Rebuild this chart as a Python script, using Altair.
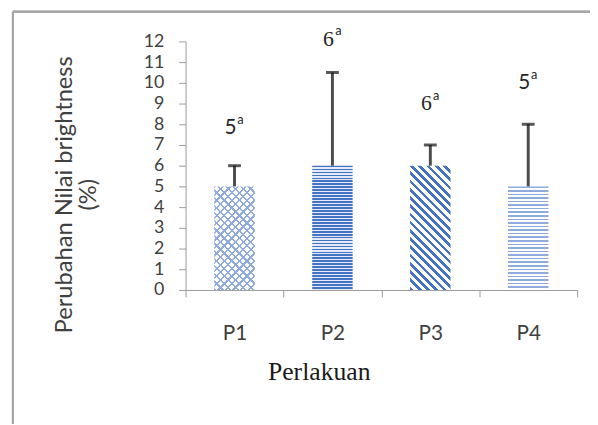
import altair as alt
import pandas as pd
import math

# ---- data ----
categories = ["P1", "P2", "P3", "P4"]
values = [5, 6, 6, 5]
upper = [6, 10.5, 7, 8]
label_num = ["5", "6", "6", "5"]
label_sup = ["a", "a", "a", "a"]
label_y = [7.8, 12.1, 9.0, 10.0]
y_ticks = list(range(0, 13))

df = pd.DataFrame({
    "cat": categories, "value": values, "upper": upper,
    "num": label_num, "sup": label_sup, "label_y": label_y,
})

W, H = 397, 252
YMAX = 12
BAR_W = 41


def stops_for(c1, c2, n, frac):
    s = []
    for i in range(n):
        a = i / n
        b = (i + frac) / n
        c = (i + 1) / n
        s += [alt.GradientStop(offset=a, color=c1), alt.GradientStop(offset=b, color=c1),
              alt.GradientStop(offset=b, color=c2), alt.GradientStop(offset=c, color=c2)]
    return s


def horiz(c1, c2, h, period, frac):
    n = max(1, round(h / period))
    return alt.LinearGradient(gradient="linear", stops=stops_for(c1, c2, n, frac),
                              x1=0, y1=0, x2=0, y2=1)


def diag(c1, c2, h, period, frac, kind):
    r = BAR_W / h
    k = (r + 1) / (r * r + 1)
    n = max(1, round((BAR_W + h) / math.sqrt(2) / period))
    if kind == "back":  # "\" lines
        return alt.LinearGradient(gradient="linear", stops=stops_for(c1, c2, n, frac),
                                  x1=0, y1=1, x2=k * r, y2=1 - k)
    return alt.LinearGradient(gradient="linear", stops=stops_for(c1, c2, n, frac),
                              x1=0, y1=0, x2=k * r, y2=k)


def bar_h(v):
    return v / YMAX * H


BLUE = "#4472C4"
LIGHT = "#8FAADC"
CLEAR = "rgba(255,255,255,0)"

x_enc = alt.X("cat:N", sort=categories,
              scale=alt.Scale(paddingInner=0, paddingOuter=0),
              axis=alt.Axis(title="Perlakuan", labelAngle=0, tickBand="extent",
                            domainColor="#9a9a9a", tickColor="#9a9a9a", tickSize=7,
                            labelFont="Lato", labelFontSize=21, labelColor="#404040",
                            labelPadding=26, titleFont="Liberation Serif", titleFontSize=26,
                            titleFontWeight="normal", titleColor="#1a1a1a",
                            titleX=135, titleY=83, titleBaseline="middle", titleAnchor="middle"))

y_axis = alt.Axis(title=["Perubahan Nilai brightness", "(%)"], values=y_ticks, grid=False,
                  domainColor="#9a9a9a", tickColor="#9a9a9a", tickSize=7,
                  labelFont="Lato", labelFontSize=18, labelColor="#404040", labelPadding=15,
                  titleFont="Lato", titleFontSize=24, titleFontWeight="normal",
                  titleColor="#404040", titleLineHeight=25, titleX=-123, titleY=155,
                  titleBaseline="middle", titleAngle=270)
y_scale = alt.Scale(domain=[0, YMAX], nice=False)

base = alt.Chart(df)


def bar_layer(cat, fill):
    return base.transform_filter(alt.datum.cat == cat).mark_bar(width=BAR_W, fill=fill).encode(
        x=x_enc, y=alt.Y("value:Q", scale=y_scale, axis=y_axis))


h1, h2, h3, h4 = [bar_h(v) for v in values]
bars = [
    bar_layer("P1", diag(LIGHT, "white", h1, 5.5, 0.3, "fwd")),
    bar_layer("P1", diag(LIGHT, CLEAR, h1, 5.5, 0.3, "back")),
    bar_layer("P2", horiz(BLUE, "#e4ebf7", h2, 3.0, 0.6)),
    bar_layer("P3", diag(BLUE, "white", h3, 6.0, 0.45, "back")),
    bar_layer("P4", horiz(LIGHT, "white", h4, 3.6, 0.45)),
]

err = base.mark_rule(color="#4d4d4d", strokeWidth=3).encode(
    x=x_enc, y=alt.Y("value:Q", scale=y_scale, axis=y_axis), y2="upper:Q")
cap = base.mark_tick(color="#111111", size=13, thickness=3).encode(
    x=x_enc, y=alt.Y("upper:Q", scale=y_scale, axis=y_axis))

num_sans = base.transform_filter(alt.FieldOneOfPredicate(field="cat", oneOf=["P1", "P4"])).mark_text(
    font="Lato", fontSize=21, color="#262626", dx=-4).encode(
    x=x_enc, y=alt.Y("label_y:Q", scale=y_scale, axis=y_axis), text="num:N")
num_serif = base.transform_filter(alt.FieldOneOfPredicate(field="cat", oneOf=["P2", "P3"])).mark_text(
    font="Liberation Serif", fontSize=22, color="#262626", dx=-4).encode(
    x=x_enc, y=alt.Y("label_y:Q", scale=y_scale, axis=y_axis), text="num:N")
sup = base.mark_text(font="Lato", fontSize=13, color="#262626", dx=6, dy=-8).encode(
    x=x_enc, y=alt.Y("label_y:Q", scale=y_scale, axis=y_axis), text="sup:N")

frame_top = base.mark_rule(color="#a6a6a6", strokeWidth=2).encode(
    x=alt.value(-175), x2=alt.value(420), y=alt.value(-30))
frame_left = base.mark_rule(color="#a6a6a6", strokeWidth=2).encode(
    x=alt.value(-175), y=alt.value(-30), y2=alt.value(400))

chart = alt.layer(*bars, err, cap, num_sans, num_serif, sup, frame_top, frame_left).properties(
    width=W, height=H,
    autosize=alt.AutoSizeParams(type="none"),
    padding={"left": 180, "top": 31, "right": 13, "bottom": 133},
).configure_view(stroke=None)

chart.save("out.html", embed_options={"renderer": "svg", "actions": False})
